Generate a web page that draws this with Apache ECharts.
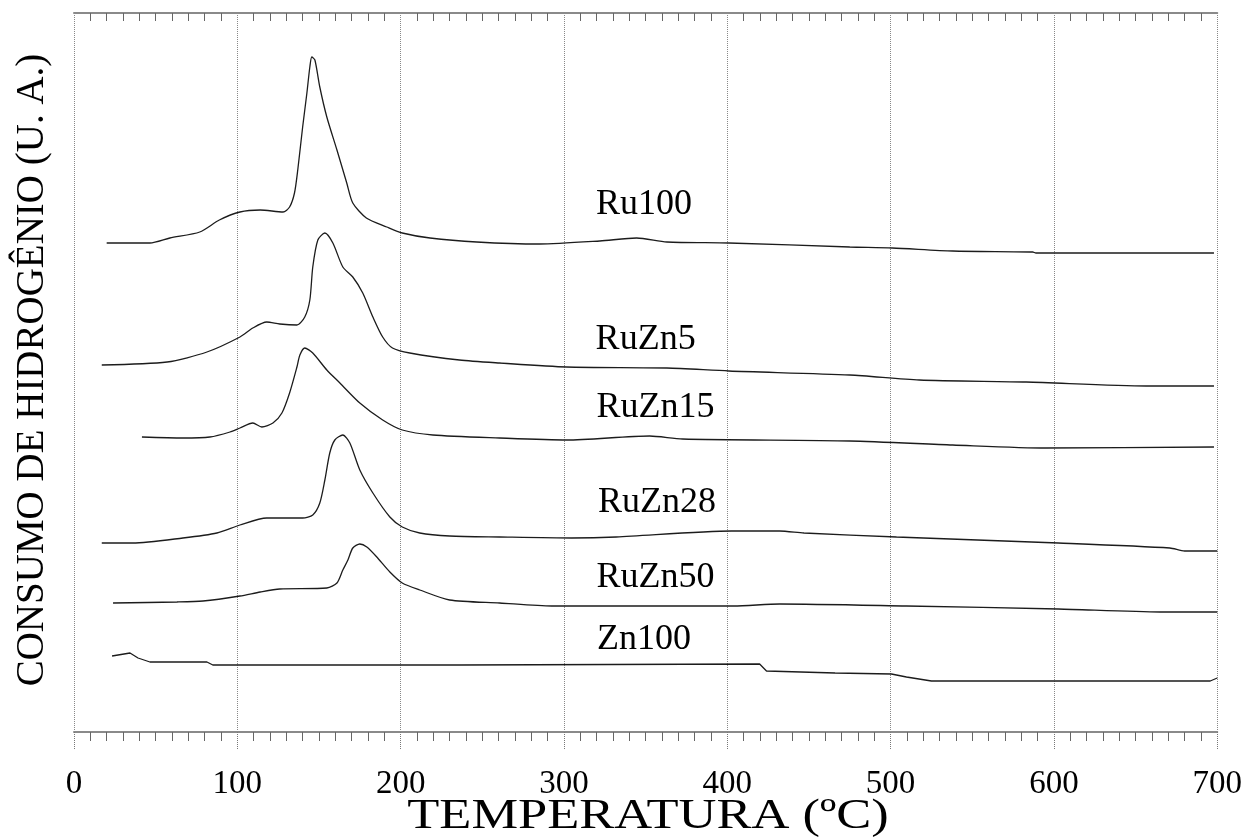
<!DOCTYPE html>
<html>
<head>
<meta charset="utf-8">
<script src="https://cdn.jsdelivr.net/npm/echarts@6/dist/echarts.min.js"></script>
<style>
html,body{margin:0;padding:0;background:#fff;}
#chart{width:1245px;height:837px;}
</style>
</head>
<body>
<div id="chart"></div>
<script>
// Temperature ticks
const xTicks = [0, 100, 200, 300, 400, 500, 600, 700];

// Series names
const seriesNames = ['Ru100', 'RuZn5', 'RuZn15', 'RuZn28', 'RuZn50', 'Zn100'];

// [temperature (°C), H2 consumption (arb. units)]
const ru100 = [[20,489],[46.5,489],[58.7,494],[77,500],[89,512],[101.6,520],[114,522],[128,520],[132,525],[135,539],[137,562],[140,605],[142.6,639],[144.4,665],[145.6,675],[147.5,672],[150.5,645],[154.8,615],[161,582],[167,549],[170.7,529],[179,514],[191.5,505],[201,499],[218,494],[246.6,490],[285,488],[322,491],[344.5,494],[363,490],[401,489],[475,485],[501,484],[538,481],[587,480],[589,479],[698,479]];
const ruzn5 = [[17,367],[57,370],[81.4,380],[101.6,395],[109.5,404],[118,410],[126,408],[136.5,407],[141.3,415],[144.4,432],[146.2,465],[149.3,492],[153.6,499],[158.5,489],[164.6,465],[170.7,455],[176.8,439],[183,415],[189,395],[195,384],[205.6,379],[236,372],[260.6,369],[301.7,365],[363,364],[401,361],[475,357],[517.6,352],[583,350],[656.5,346],[698,346]];
const ruzn15 = [[41.6,295],[66.7,294],[83.2,295],[95.5,300],[101.6,304],[109.5,309],[115,305],[121.8,309],[127.3,319],[132,339],[136.5,365],[138.3,377],[141.3,384],[146.2,379],[154.8,362],[162.8,349],[175,329],[189,312],[201,302],[219.7,297],[260.6,294],[301.7,292],[352.4,296],[372.6,293],[475,291],[538,287],[595,284],[698,285]];
const ruzn28 = [[17,189],[36,189],[66.7,194],[87.5,199],[101.6,207],[118,214],[130,214],[140,214],[146.2,217],[150.5,229],[153.6,252],[156.6,279],[159.7,292],[164.6,297],[168.9,289],[175,262],[183,239],[193.4,215],[201,205],[211.7,199],[230,196],[260.6,195],[304.7,194],[332,195],[402.6,201],[432,201],[447,199],[503.6,195],[602.7,189],[671,184],[680,181],[700,181]];
const ruzn50 = [[23.9,129],[63,130],[79,131],[101.6,136],[114,140],[126,143],[154.8,144],[161,149],[164.6,162],[167.7,172],[170.7,184],[175,188],[179.3,185],[185.4,175],[193.4,160],[201,149],[211.7,142],[230,132],[260.6,129],[292.5,126],[404,126],[432,128],[509.7,126],[602.7,123],[665,120],[700,120]];
const zn100 = [[23.3,76],[34.3,79],[39.2,74],[46.5,70],[81.4,70],[85,67],[236,67],[419.8,68],[424,61],[466,59],[500.5,58],[509.7,55],[525,51],[695.7,51],[700,54]];

// Curve label anchors [temperature, value]
const labelAnchors = [[349,527],[350,392],[356,324],[357,229],[356,154],[349,92]];

const curves = [ru100, ruzn5, ruzn15, ruzn28, ruzn50, zn100];
const smoothFlags = [0.25, 0.25, 0.25, 0.25, 0.25, false];

const chart = echarts.init(document.getElementById('chart'), null, {renderer: 'canvas'});
const serif = 'Liberation Serif, Times New Roman, serif';

const series = curves.map((d, i) => ({
  name: seriesNames[i],
  type: 'line',
  data: d,
  showSymbol: false,
  smooth: smoothFlags[i],
  lineStyle: {color: '#1c1c1c', width: 1.3},
  xAxisIndex: 0,
  yAxisIndex: 0,
  silent: true,
  markPoint: {
    symbol: 'rect',
    symbolSize: 1,
    itemStyle: {color: 'rgba(0,0,0,0)'},
    label: {show: true, position: 'inside', formatter: seriesNames[i], color: '#000', fontFamily: serif, fontSize: 36},
    data: [{coord: labelAnchors[i]}]
  }
}));

const axisLineStyle = {color: '#8a8a8a', width: 2};
const option = {
  backgroundColor: '#fff',
  animation: false,
  grid: {left: 74, right: 27, top: 13, bottom: 105, containLabel: false},
  xAxis: [{
    type: 'value', min: 0, max: 700, interval: 100, position: 'bottom',
    axisLine: {show: true, lineStyle: axisLineStyle},
    axisTick: {show: true, inside: false, length: 18, lineStyle: {color: '#777', type: 'dotted', width: 1}},
    minorTick: {show: true, splitNumber: 10, length: 9, lineStyle: {color: '#666', width: 1}},
    axisLabel: {show: true, color: '#000', fontFamily: serif, fontSize: 33, margin: 36,
      formatter: v => xTicks.includes(v) ? String(v) : ''},
    splitLine: {show: true, showMinLine: true, showMaxLine: true, lineStyle: {color: '#888', type: 'dotted', width: 1}}
  }, {
    type: 'value', min: 0, max: 700, interval: 100, position: 'top',
    axisLine: {show: true, lineStyle: axisLineStyle},
    axisTick: {show: false, inside: true, length: 8},
    minorTick: {show: true, splitNumber: 10, length: 8, lineStyle: {color: '#666', width: 1}},
    axisLabel: {show: false},
    splitLine: {show: false}
  }],
  yAxis: [{
    type: 'value', min: 0, max: 719,
    axisLine: {show: false}, axisTick: {show: false}, axisLabel: {show: false}, splitLine: {show: false}
  }],
  graphic: [
    {type: 'text', x: 648, y: 817, scaleX: 1.25,
      style: {text: 'TEMPERATURA (ºC)', font: '42px ' + serif, fill: '#000', align: 'center', verticalAlign: 'middle'}},
    {type: 'text', x: 13, y: 370, rotation: Math.PI / 2,
      style: {text: 'CONSUMO DE HIDROGÊNIO (U. A.)', font: '39px ' + serif, fill: '#000', align: 'center', verticalAlign: 'top'}}
  ],
  series: series
};
chart.setOption(option);
</script>
</body>
</html>
